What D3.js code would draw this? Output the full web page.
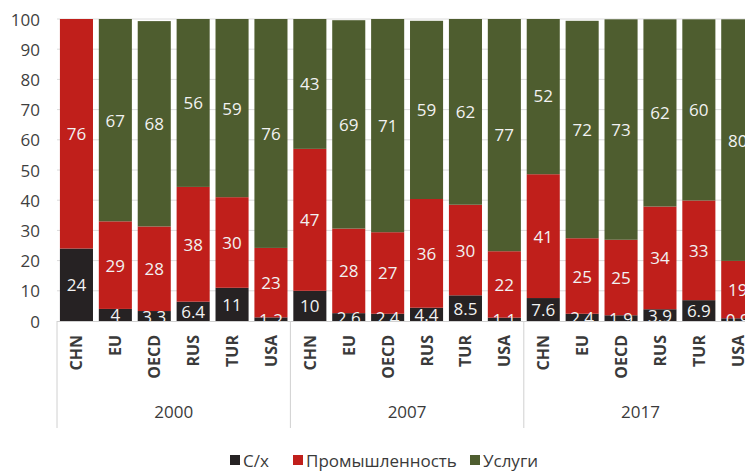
<!DOCTYPE html>
<html>
<head>
<meta charset="utf-8">
<script src="https://cdn.jsdelivr.net/npm/d3@7"></script>
<style>
  html, body { margin: 0; padding: 0; background: #ffffff; }
  svg { display: block; }
  text { font-family: "Open Sans", "Noto Sans", sans-serif; }
</style>
</head>
<body>
<svg id="chart" width="745" height="472"></svg>
<script>
// ---- data ----
const countries = ["CHN", "EU", "OECD", "RUS", "TUR", "USA"];
const years = ["2000", "2007", "2017"];
const agriculture = [24, 4, 3.3, 6.4, 11, 1.2,   10, 2.6, 2.4, 4.4, 8.5, 1.1,   7.6, 2.4, 1.9, 3.9, 6.9, 0.9];
const industry    = [76, 29, 28, 38, 30, 23,     47, 28, 27, 36, 30, 22,        41, 25, 25, 34, 33, 19];
const services    = [0, 67, 68, 56, 59, 76,      43, 69, 71, 59, 62, 77,        52, 72, 73, 62, 60, 80];
const seriesNames = ["С/х", "Промышленность", "Услуги"];
const yTicks = [0, 10, 20, 30, 40, 50, 60, 70, 80, 90, 100];

(function () {
// ---- build rows ----
const rows = [];
years.forEach((yr, gi) => {
  countries.forEach((c, ci) => {
    const i = gi * countries.length + ci;
    rows.push({ key: yr + "|" + c, year: yr, country: c,
      "С/х": agriculture[i], "Промышленность": industry[i], "Услуги": services[i] });
  });
});

const colors = d3.scaleOrdinal().domain(seriesNames).range(["#262223", "#c01f1b", "#4e5d2f"]);

const svg = d3.select("#chart");
const plotTop = 19, plotBottom = 321, plotLeft = 57, step = 38.9;
const plotRight = plotLeft + step * rows.length;

const x = d3.scaleBand().domain(rows.map(d => d.key)).range([plotLeft, plotRight])
  .paddingInner(0.15).paddingOuter(0.075);
const y = d3.scaleLinear().domain([0, 100]).range([plotBottom, plotTop]);

// gridlines
svg.append("g").selectAll("line").data(yTicks.filter(t => t > 0)).join("line")
  .attr("x1", plotLeft).attr("x2", 745)
  .attr("y1", d => y(d)).attr("y2", d => y(d))
  .attr("stroke", "#dcdcdc").attr("stroke-width", 1);

// y tick labels
svg.append("g").selectAll("text").data(yTicks).join("text")
  .attr("x", 40).attr("y", d => y(d))
  .attr("text-anchor", "end").attr("dominant-baseline", "central")
  .attr("font-size", 17).attr("fill", "#3f3f3f")
  .text(d => d);

// stacked bars
const stack = d3.stack().keys(seriesNames);
const layers = stack(rows);

const defs = svg.append("defs");
defs.append("clipPath").attr("id", "plotclip")
  .append("rect").attr("x", 0).attr("y", 0).attr("width", 800).attr("height", plotBottom);
defs.append("clipPath").attr("id", "barclip")
  .append("rect").attr("x", 0).attr("y", plotTop).attr("width", 800).attr("height", plotBottom - plotTop);

const gBars = svg.append("g").attr("clip-path", "url(#barclip)");
layers.forEach(layer => {
  gBars.append("g").attr("fill", colors(layer.key))
    .selectAll("rect").data(layer.filter(d => d[1] - d[0] > 0)).join("rect")
    .attr("x", d => x(d.data.key))
    .attr("width", x.bandwidth())
    .attr("y", d => y(d[1]))
    .attr("height", d => y(d[0]) - y(d[1]));
});

// segment labels
const gLab = svg.append("g").attr("clip-path", "url(#plotclip)");
layers.forEach(layer => {
  gLab.append("g").selectAll("text").data(layer.filter(d => d[1] - d[0] > 0)).join("text")
    .attr("x", d => x(d.data.key) + x.bandwidth() / 2)
    .attr("y", d => y((d[0] + d[1]) / 2))
    .attr("text-anchor", "middle").attr("dominant-baseline", "central")
    .attr("font-size", 17).attr("fill", "#f2f2f2")
    .text(d => d.data[layer.key]);
});

// axis line
svg.append("line").attr("x1", plotLeft).attr("x2", 745)
  .attr("y1", plotBottom + 0.5).attr("y2", plotBottom + 0.5)
  .attr("stroke", "#d0d0d0").attr("stroke-width", 1);

// group separators
const sepX = [0, 1, 2, 3].map(g => g * countries.length * step + plotLeft);
svg.append("g").selectAll("line").data(sepX).join("line")
  .attr("x1", d => d).attr("x2", d => d)
  .attr("y1", plotBottom).attr("y2", 428)
  .attr("stroke", "#d0d0d0").attr("stroke-width", 1);

// country labels (rotated)
svg.append("g").selectAll("text").data(rows).join("text")
  .attr("transform", d => `translate(${x(d.key) + x.bandwidth() / 2},335) rotate(-90)`)
  .attr("text-anchor", "end").attr("dominant-baseline", "central")
  .attr("font-size", 16).attr("font-weight", "bold").attr("fill", "#3a3a3a")
  .text(d => d.country);

// year labels
svg.append("g").selectAll("text").data(years).join("text")
  .attr("x", (d, i) => plotLeft + (i + 0.5) * countries.length * step)
  .attr("y", 418)
  .attr("text-anchor", "middle")
  .attr("font-size", 17).attr("fill", "#3a3a3a")
  .text(d => d);

// legend
const legendItems = [
  { name: seriesNames[0], x: 230 },
  { name: seriesNames[1], x: 293 },
  { name: seriesNames[2], x: 470 }
];
const lg = svg.append("g");
legendItems.forEach(it => {
  lg.append("rect").attr("x", it.x).attr("y", 455).attr("width", 10).attr("height", 10)
    .attr("fill", colors(it.name));
  lg.append("text").attr("x", it.x + 13).attr("y", 467)
    .attr("font-size", 17).attr("fill", "#3a3a3a").text(it.name);
});
})();
</script>
</body>
</html>
